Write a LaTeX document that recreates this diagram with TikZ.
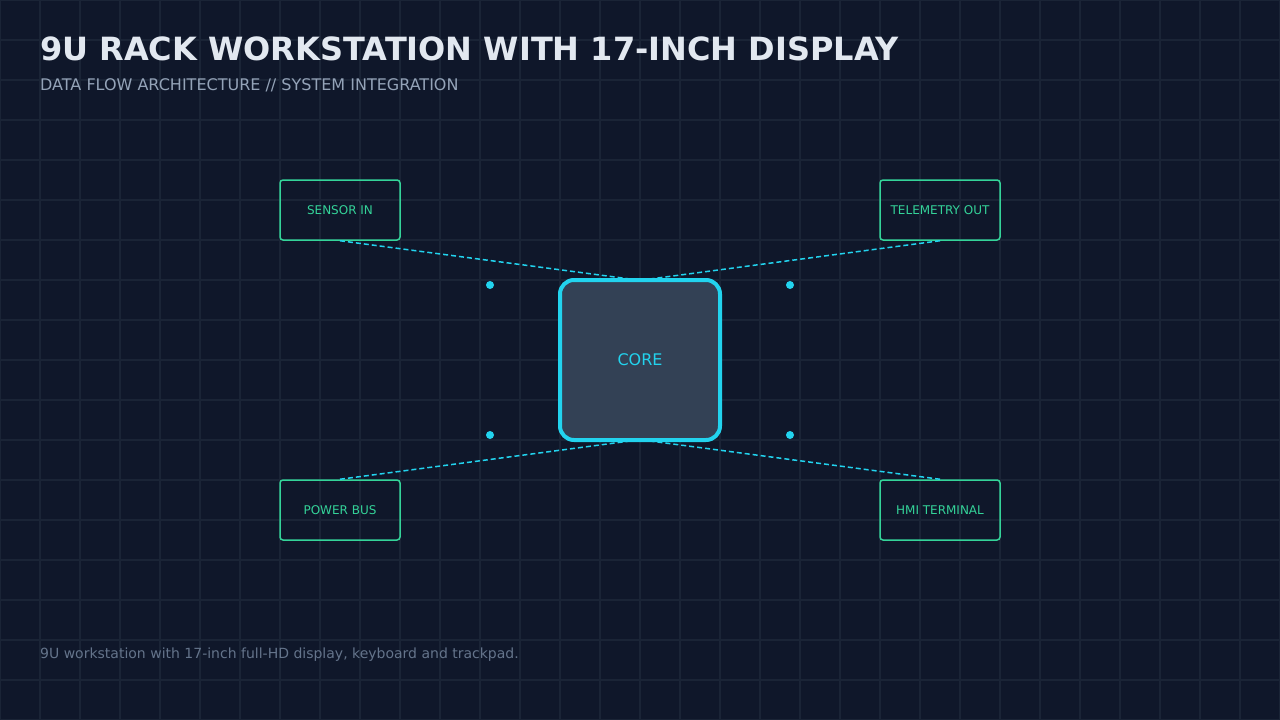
\documentclass[tikz,border=0pt]{standalone}
\usepackage{fontspec}
\setmainfont{DejaVu Sans}
\usetikzlibrary{positioning}
\definecolor{bg}{HTML}{0F172A}
\definecolor{gridc}{HTML}{1A2436}
\definecolor{accent}{HTML}{22D3EE}
\definecolor{green}{HTML}{34D399}
\definecolor{corefill}{HTML}{334155}
\definecolor{titlec}{HTML}{E2E8F0}
\definecolor{subc}{HTML}{94A3B8}
\definecolor{notec}{HTML}{64748B}
\tikzset{
  port/.style={draw=green, line width=1.5pt, rounded corners=3pt, minimum width=120pt, minimum height=60pt, text=green, font=\fontsize{12}{14}\selectfont, inner sep=0pt},
  core/.style={draw=accent, fill=corefill, line width=4pt, rounded corners=14pt, minimum width=160pt, minimum height=160pt, text=accent, font=\fontsize{16}{19}\selectfont},
  flow/.style={accent, line width=1.5pt, dash pattern=on 5pt off 3pt},
  dot/.style={circle, fill=accent, inner sep=0pt, minimum size=8pt}
}
\begin{document}
\begin{tikzpicture}[x=1pt,y=-1pt]
    \fill[bg] (0,0) rectangle (1280,720);
    \useasboundingbox (0,0) rectangle (1280,720);
    \foreach \i in {0,40,...,1280} \draw[gridc, line width=1.5pt] (\i,0) -- (\i,720);
    \foreach \j in {0,40,...,720} \draw[gridc, line width=1.5pt] (0,\j) -- (1280,\j);

    \node[anchor=west, text=titlec, font=\fontsize{32}{38}\bfseries\selectfont, inner sep=0pt] (title) at (40,49) {9U RACK WORKSTATION WITH 17-INCH DISPLAY};
    \node[anchor=west, text=subc, font=\fontsize{16}{19}\selectfont, inner sep=0pt] (subtitle) at (40,85) {DATA FLOW ARCHITECTURE // SYSTEM INTEGRATION};
    \node[anchor=west, text=notec, font=\fontsize{14}{17}\selectfont, inner sep=0pt] (note) at (40,655) {9U workstation with 17-inch full-HD display, keyboard and trackpad.};

    \node[core] (core) at (640,360) {CORE};
    \node[port] (sensor) at (340,210) {SENSOR IN};
    \node[port] (telem) at (940,210) {TELEMETRY OUT};
    \node[port] (power) at (340,510) {POWER BUS};
    \node[port] (hmi) at (940,510) {HMI TERMINAL};

    \coordinate (ctl) at (630,279);
    \coordinate (ctr) at (650,279);
    \coordinate (cbl) at (630,441);
    \coordinate (cbr) at (650,441);
    \draw[flow] (sensor.south) -- (ctl);
    \draw[flow] (telem.south) -- (ctr);
    \draw[flow] (power.north) -- (cbl);
    \draw[flow] (hmi.north) -- (cbr);

    \node[dot] (d1) at (490,285) {};
    \node[dot] (d2) at (790,285) {};
    \node[dot] (d3) at (490,435) {};
    \node[dot] (d4) at (790,435) {};
\end{tikzpicture}
\end{document}
